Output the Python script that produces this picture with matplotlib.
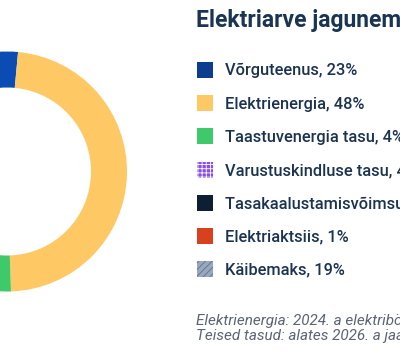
import matplotlib
matplotlib.use("Agg")
import matplotlib.pyplot as plt
from matplotlib.patches import Rectangle

W, H = 400, 356

labels = ["Võrguteenus", "Elektrienergia", "Taastuvenergia tasu",
          "Varustuskindluse tasu", "Tasakaalustamisvõimsuse tasu",
          "Elektriaktsiis", "Käibemaks"]
shares = [23, 48, 4, 4, 1, 1, 19]
wedge_colors = ["#0b4cb4", "#fec864", "#3ec96b", "#8b4de8", "#0e1f33", "#d8401e", "#9aa8bf"]
legend_colors = ["#0c3d90", "#fec864", "#3ec96b", "#8b4de8", "#0e1f33", "#d8401e", "#9aa8bf"]
hatches = [None, None, None, "++++", None, None, "/////"]
hatch_colors = [None, None, None, "white", None, None, "#5d7090"]

title = "Elektriarve jagunemine"
notes = ["Elektrienergia: 2024. a elektribörsi keskmine hind",
         "Teised tasud: alates 2026. a jaanuarist"]

TXT = "#1b3350"

plt.rcParams["font.family"] = ["Roboto", "DejaVu Sans"]
plt.rcParams["hatch.linewidth"] = 0.6

fig = plt.figure(figsize=(W / 100, H / 100), dpi=100)

# donut, centre sits near the left edge so most of it is cut off
cx, cy, r = 7, H - 171.5, 120
ax = fig.add_axes([(cx - r) / W, (cy - r) / H, 2 * r / W, 2 * r / H])
wedges, _ = ax.pie(shares, colors=wedge_colors, startangle=167.5, counterclock=False,
                   radius=1.0, wedgeprops=dict(width=0.30, linewidth=0))
for w, h, hc in zip(wedges, hatches, hatch_colors):
    if h:
        w.set_hatch(h)
        w.set_edgecolor(hc)
        w.set_linewidth(0)
ax.set_xlim(-1, 1)
ax.set_ylim(-1, 1)
ax.set_aspect("equal")
ax.axis("off")

fig.text(196 / W, 1 - 27 / H, title, fontsize=16.5, fontweight="bold",
         color="#1a3553", va="baseline", ha="left")

y0, step = 70, 33.2
for i, (lab, val) in enumerate(zip(labels, shares)):
    yc = y0 + i * step
    sq = Rectangle((197 / W, 1 - (yc + 8) / H), 16 / W, 16 / H, transform=fig.transFigure,
                   facecolor=legend_colors[i], linewidth=0)
    if hatches[i]:
        sq.set_hatch(hatches[i])
        sq.set_edgecolor(hatch_colors[i])
    fig.add_artist(sq)
    fig.text(225 / W, 1 - (yc + 5.5) / H, f"{lab}, {val}%", fontsize=11.8,
             fontweight="medium", color=TXT, va="baseline", ha="left")

for i, note in enumerate(notes):
    fig.text(196 / W, 1 - (325 + i * 15) / H, note, fontsize=11, fontstyle="italic",
             color="#5b6472", va="baseline", ha="left")

fig.savefig("out.png", dpi=100)
